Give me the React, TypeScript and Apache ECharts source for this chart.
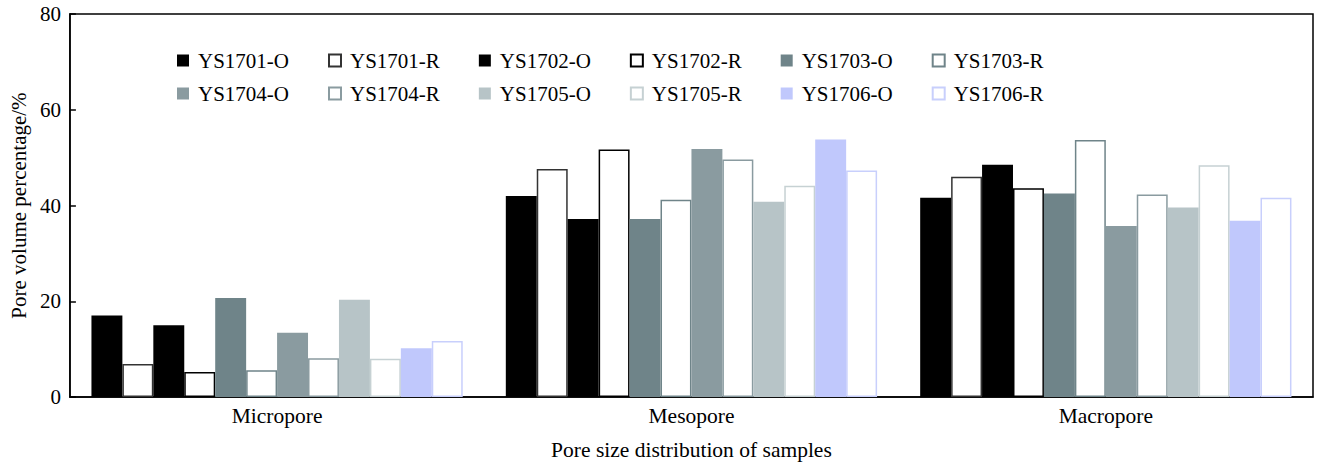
import React, { useEffect, useRef } from "react";
import * as echarts from "echarts";

const categories = ["Micropore", "Mesopore", "Macropore"];
const seriesNames = [
  "YS1701-O", "YS1701-R", "YS1702-O", "YS1702-R", "YS1703-O", "YS1703-R",
  "YS1704-O", "YS1704-R", "YS1705-O", "YS1705-R", "YS1706-O", "YS1706-R",
];
const ys1701O = [17.0, 42.0, 41.6];
const ys1701R = [6.9, 47.6, 46.0];
const ys1702O = [15.0, 37.2, 48.5];
const ys1702R = [5.2, 51.7, 43.6];
const ys1703O = [20.7, 37.2, 42.5];
const ys1703R = [5.6, 41.2, 53.7];
const ys1704O = [13.4, 51.8, 35.7];
const ys1704R = [8.1, 49.6, 42.3];
const ys1705O = [20.3, 40.8, 39.6];
const ys1705R = [8.0, 44.1, 48.4];
const ys1706O = [10.2, 53.8, 36.8];
const ys1706R = [11.7, 47.3, 41.6];
const seriesValues = [
  ys1701O, ys1701R, ys1702O, ys1702R, ys1703O, ys1703R,
  ys1704O, ys1704R, ys1705O, ys1705R, ys1706O, ys1706R,
];
const sampleColors = ["#000000", "#000000", "#6f8489", "#8a9ba0", "#b7c4c7", "#c0c8fc"];
const rBorderColors = ["#333333", "#000000", "#6f8489", "#8a9ba0", "#c6d1d3", "#c8cffc"];
const yTicks = [0, 20, 40, 60, 80];

const FONT = "'Liberation Serif', 'Times New Roman', serif";

export default function App() {
  const ref = useRef<HTMLDivElement>(null);
  useEffect(() => {
    if (!ref.current) return;
    const chart = echarts.init(ref.current, null, { renderer: "svg" });
    const series = seriesNames.map((name, i) => {
      const s = Math.floor(i / 2);
      const isR = i % 2 === 1;
      return {
        name,
        type: "bar",
        data: seriesValues[i],
        barGap: "0%",
        barCategoryGap: "10.4%",
        itemStyle: isR
          ? { color: "#ffffff", borderColor: rBorderColors[s], borderWidth: 1.5 }
          : { color: sampleColors[s], borderWidth: 0 },
      };
    });
    const legendCommon = {
      left: 177,
      padding: 0,
      itemWidth: 12,
      itemHeight: 12,
      itemGap: 39,
      icon: "rect",
      textStyle: { fontFamily: FONT, fontSize: 21, color: "#000", width: 100, padding: [0, 0, 0, 4] },
    };
    chart.setOption({
      animation: false,
      textStyle: { fontFamily: FONT },
      grid: {
        left: 67, right: 6, top: 14, bottom: 63,
        show: true, borderColor: "#000", borderWidth: 1.5, backgroundColor: "transparent",
      },
      legend: [
        { ...legendCommon, top: 50, data: seriesNames.slice(0, 6) },
        { ...legendCommon, top: 83, data: seriesNames.slice(6) },
      ],
      xAxis: {
        type: "category",
        data: categories,
        name: "Pore size distribution of samples",
        nameLocation: "middle",
        nameGap: 42,
        nameTextStyle: { fontFamily: FONT, fontSize: 21.5, color: "#000" },
        axisLine: { lineStyle: { color: "#000", width: 1.5 } },
        axisTick: { inside: true, length: 6, lineStyle: { color: "#000", width: 1.5 } },
        axisLabel: { fontFamily: FONT, fontSize: 21.5, color: "#000", margin: 8 },
        splitLine: { show: false },
      },
      yAxis: {
        type: "value",
        min: yTicks[0],
        max: yTicks[yTicks.length - 1],
        interval: 20,
        name: "Pore volume percentage/%",
        nameLocation: "middle",
        nameGap: 39,
        nameTextStyle: { fontFamily: FONT, fontSize: 21, color: "#000" },
        axisLine: { show: true, lineStyle: { color: "#000", width: 1.5 } },
        axisTick: { show: true, inside: true, length: 6, lineStyle: { color: "#000", width: 1.5 } },
        axisLabel: { fontFamily: FONT, fontSize: 21, color: "#000", margin: 9 },
        splitLine: { show: false },
      },
      series,
    });
    return () => chart.dispose();
  }, []);
  return <div ref={ref} style={{ width: 1319, height: 466, position: "absolute", left: 0, top: 0 }} />;
}
